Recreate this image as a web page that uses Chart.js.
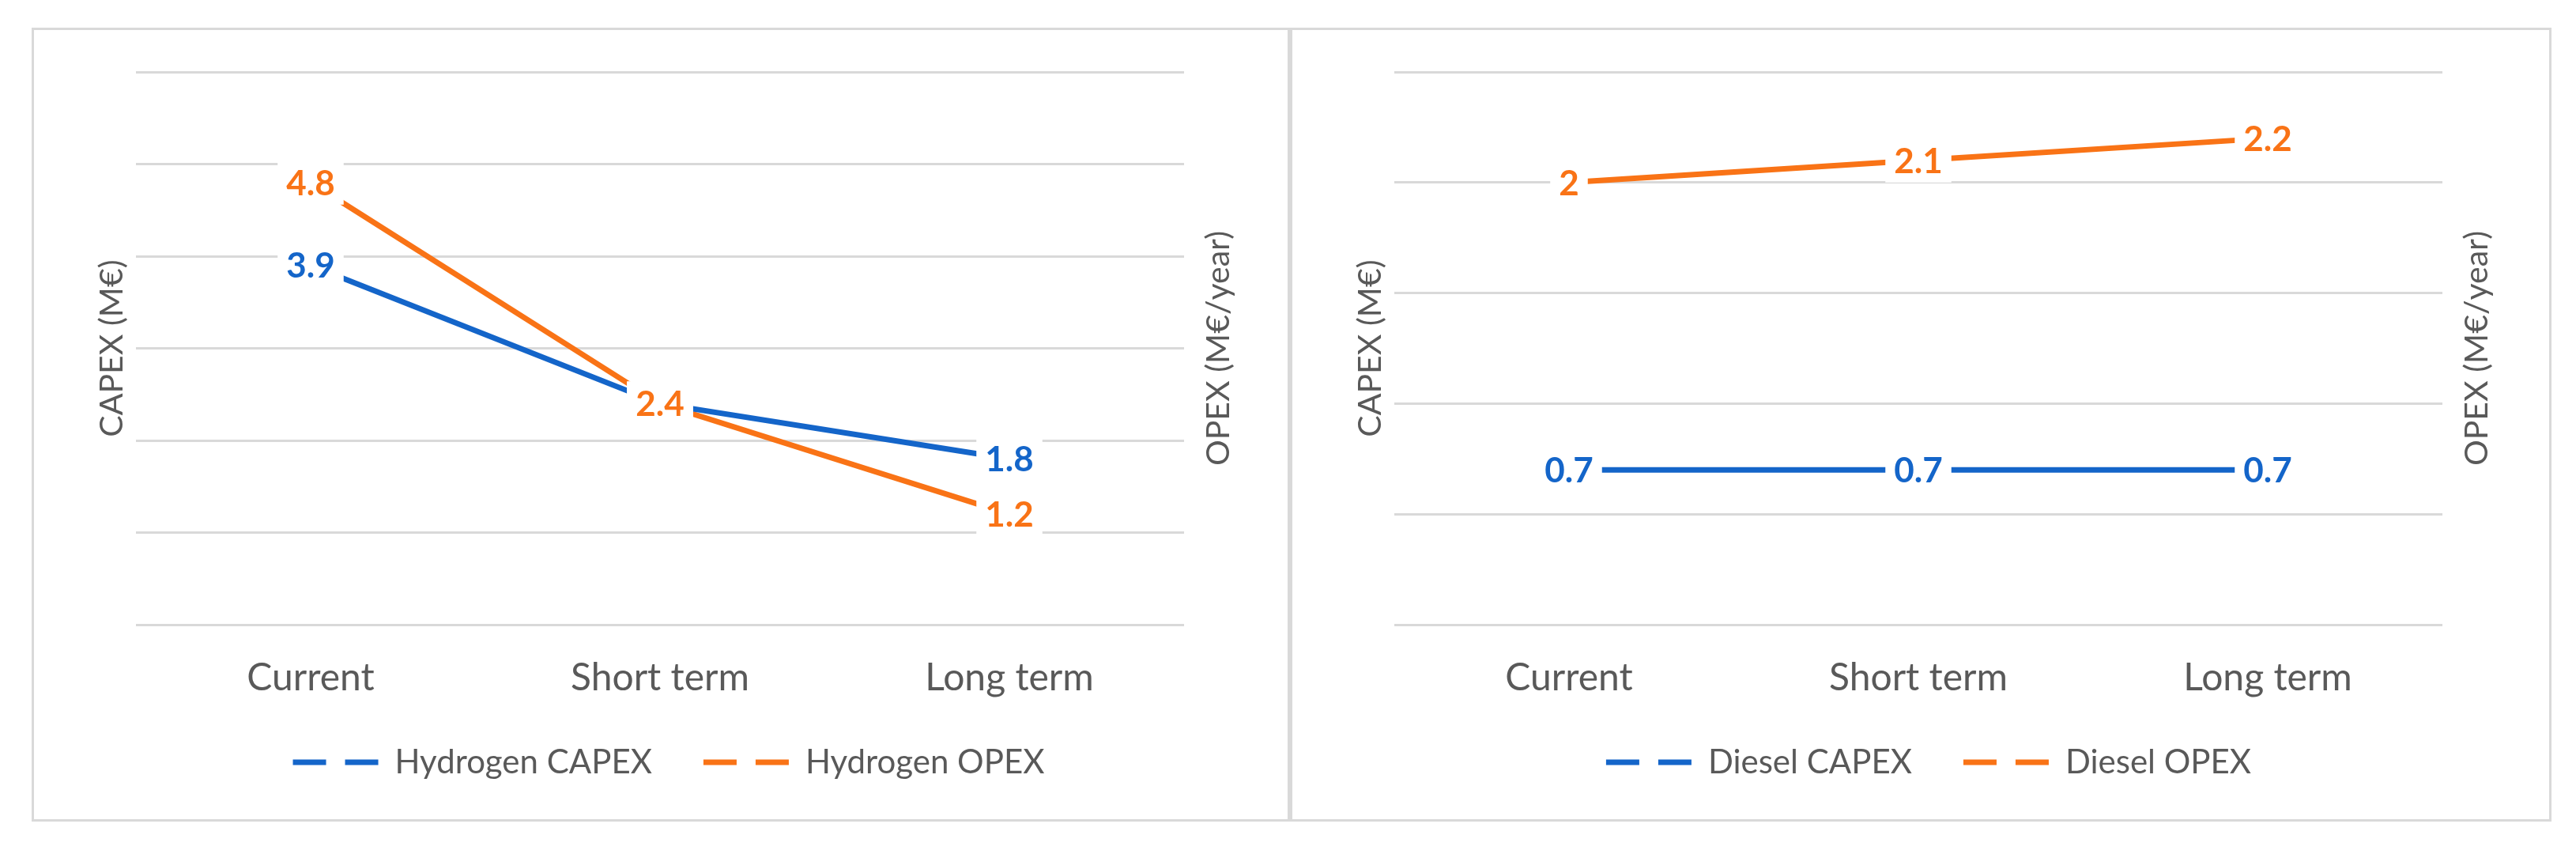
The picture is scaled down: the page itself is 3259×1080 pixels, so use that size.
<!DOCTYPE html>
<html>
<head>
<meta charset="utf-8">
<script src="https://cdn.jsdelivr.net/npm/chart.js@4.4.1/dist/chart.umd.min.js"></script>
<style>
  html, body { margin: 0; padding: 0; background: #ffffff; }
  body { width: 3259px; height: 1080px; position: relative; overflow: hidden; }
  .panel { position: absolute; top: 35px; height: 1004px; border: 3px solid #d9d9d9; box-sizing: border-box; background: #fff; }
  #p1 { left: 40px; width: 1592px; }
  #p2 { left: 1632px; width: 1596px; }
  canvas { display: block; }
</style>
</head>
<body>
<div class="panel" id="p1"><canvas id="c1" width="1586" height="998"></canvas></div>
<div class="panel" id="p2"><canvas id="c2" width="1590" height="998"></canvas></div>
<script>
// ---- data ----
const categories = ['Current', 'Short term', 'Long term'];
const hydrogenCapex = [3.9, 2.4, 1.8];
const hydrogenOpex = [4.8, 2.4, 1.2];
const dieselCapex = [0.7, 0.7, 0.7];
const dieselOpex = [2, 2.1, 2.2];
const hydrogenLabels = ['Hydrogen CAPEX', 'Hydrogen OPEX'];
const dieselLabels = ['Diesel CAPEX', 'Diesel OPEX'];
const hydrogenAxisMax = 6;
const hydrogenAxisStep = 1;
const dieselAxisMax = 2.5;
const dieselAxisStep = 0.5;
const capexTitle = 'CAPEX (M€)';
const opexTitle = 'OPEX (M€/year)';

// ---- style ----
const BLUE = '#1465c9';
const ORANGE = '#f97316';
const GREY_TEXT = '#595959';
const GRID = '#d9d9d9';
const FONT = 'Lato';

const valueLabels = {
  id: 'valueLabels',
  afterDatasetsDraw(chart) {
    const ctx = chart.ctx;
    const size = 44;
    ctx.save();
    ctx.font = `bold ${size}px ${FONT}`;
    ctx.textAlign = 'center';
    ctx.textBaseline = 'alphabetic';
    chart.data.datasets.forEach((ds, i) => {
      const meta = chart.getDatasetMeta(i);
      meta.data.forEach((pt, j) => {
        const txt = String(ds.data[j]);
        const w = ctx.measureText(txt).width + 22;
        const h = 56;
        ctx.fillStyle = '#ffffff';
        ctx.fillRect(pt.x - w / 2, pt.y - h / 2, w, h);
        ctx.fillStyle = ds.borderColor;
        ctx.fillText(txt, pt.x, pt.y + size * 0.7165 / 2);
      });
    });
    ctx.restore();
  }
};

const rightTitle = {
  id: 'rightTitle',
  afterDraw(chart, args, opts) {
    const ctx = chart.ctx;
    const a = chart.chartArea;
    ctx.save();
    ctx.font = `41px ${FONT}`;
    ctx.fillStyle = GREY_TEXT;
    ctx.textAlign = 'center';
    ctx.textBaseline = 'middle';
    ctx.translate(a.right + 44, (a.top + a.bottom) / 2);
    ctx.rotate(-Math.PI / 2);
    ctx.fillText(opts.text, 0, 0);
    ctx.restore();
  }
};

function makeChart(id, labels, capex, opex, yMax, yStep) {
  return new Chart(document.getElementById(id), {
    type: 'line',
    data: {
      labels: categories,
      datasets: [
        { label: labels[0], data: capex, borderColor: BLUE, backgroundColor: BLUE, borderWidth: 7, pointRadius: 0, tension: 0, yAxisID: 'y' },
        { label: labels[1], data: opex, borderColor: ORANGE, backgroundColor: ORANGE, borderWidth: 7, pointRadius: 0, tension: 0, yAxisID: 'y1' }
      ]
    },
    options: {
      responsive: false,
      animation: false,
      devicePixelRatio: 1,
      layout: { padding: { top: 53, bottom: 41, left: 0, right: 0 } },
      plugins: {
        legend: {
          position: 'bottom',
          labels: {
            usePointStyle: true,
            pointStyleWidth: 128,
            padding: 45,
            color: GREY_TEXT,
            font: { family: FONT, size: 42 },
            generateLabels(chart) {
              return Chart.defaults.plugins.legend.labels.generateLabels(chart).map(l => Object.assign(l, {
                pointStyle: 'line', lineDash: [0, 20, 42, 24, 42, 200], lineWidth: 7, lineCap: 'butt'
              }));
            }
          }
        },
        tooltip: { enabled: false },
        rightTitle: { text: opexTitle }
      },
      scales: {
        x: {
          offset: true,
          grid: { display: false, drawTicks: false },
          border: { display: false },
          ticks: { color: GREY_TEXT, font: { family: FONT, size: 48 }, padding: 39 },
          afterFit(s) { s.height = 108; }
        },
        y: {
          position: 'left',
          min: 0, max: yMax,
          ticks: { display: false, stepSize: yStep },
          grid: { color: GRID, lineWidth: 3, drawTicks: false },
          border: { display: false },
          title: { display: true, text: capexTitle, color: GREY_TEXT, font: { family: FONT, size: 41 }, padding: { top: 74, bottom: 0 } },
          afterFit(s) { s.width = 129; }
        },
        y1: {
          position: 'right',
          min: 0, max: yMax,
          ticks: { display: false, stepSize: yStep },
          grid: { display: false, drawTicks: false },
          border: { display: false },
          afterFit(s) { s.width = s.chart.width - 129 - 1326; }
        }
      }
    },
    plugins: [valueLabels, rightTitle]
  });
}

makeChart('c1', hydrogenLabels, hydrogenCapex, hydrogenOpex, hydrogenAxisMax, hydrogenAxisStep);
makeChart('c2', dieselLabels, dieselCapex, dieselOpex, dieselAxisMax, dieselAxisStep);
</script>
</body>
</html>
